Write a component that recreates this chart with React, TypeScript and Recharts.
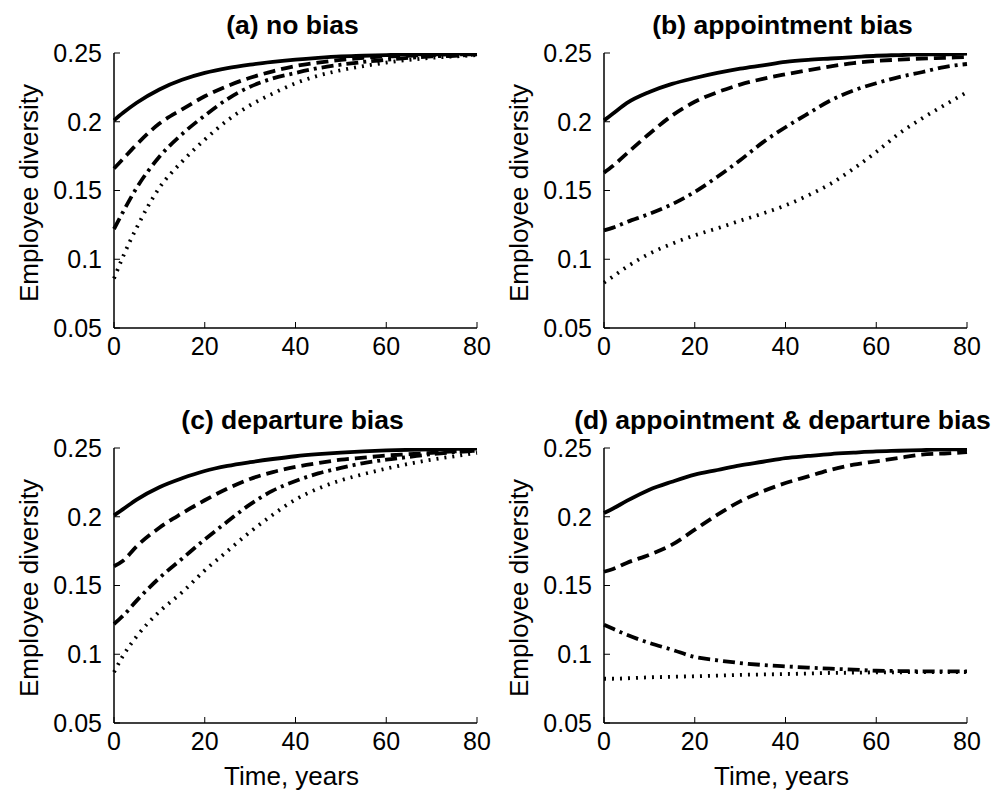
import React from "react";
import { LineChart, Line, XAxis, YAxis } from "recharts";

const times = [0, 2, 5, 10, 15, 20, 25, 30, 35, 40, 45, 50, 55, 60, 65, 70, 75, 80];
const xTicks = [0, 20, 40, 60, 80];
const yTicks = [0.05, 0.1, 0.15, 0.2, 0.25];

// (a) no bias
const noBiasSolid = [0.201, 0.2065, 0.2138, 0.2235, 0.2305, 0.2355, 0.239, 0.2415, 0.2435, 0.2452, 0.2465, 0.2475, 0.248, 0.2485, 0.249, 0.249, 0.2495, 0.2495];
const noBiasDashed = [0.166, 0.173, 0.1835, 0.1987, 0.209, 0.2185, 0.226, 0.232, 0.2367, 0.2405, 0.243, 0.245, 0.2465, 0.2475, 0.248, 0.2485, 0.249, 0.249];
const noBiasDashDot = [0.122, 0.1345, 0.152, 0.1745, 0.191, 0.2045, 0.2165, 0.2255, 0.2315, 0.2355, 0.239, 0.2415, 0.2435, 0.245, 0.2465, 0.2475, 0.248, 0.249];
const noBiasDotted = [0.086, 0.102, 0.123, 0.152, 0.171, 0.187, 0.201, 0.212, 0.2205, 0.228, 0.2335, 0.2375, 0.2405, 0.243, 0.245, 0.2465, 0.2475, 0.2485];

// (b) appointment bias
const apptSolid = [0.201, 0.206, 0.2135, 0.2216, 0.2275, 0.2318, 0.2355, 0.2386, 0.241, 0.2435, 0.245, 0.246, 0.247, 0.248, 0.2485, 0.249, 0.249, 0.2495];
const apptDashed = [0.163, 0.168, 0.1768, 0.1913, 0.2045, 0.2145, 0.2215, 0.227, 0.2312, 0.2345, 0.2375, 0.2403, 0.2427, 0.2442, 0.2452, 0.246, 0.2465, 0.247];
const apptDashDot = [0.121, 0.123, 0.127, 0.133, 0.14, 0.149, 0.16, 0.172, 0.185, 0.196, 0.206, 0.2156, 0.2228, 0.228, 0.2325, 0.236, 0.2398, 0.242];
const apptDotted = [0.083, 0.0875, 0.0944, 0.104, 0.1113, 0.1174, 0.1225, 0.128, 0.1333, 0.1392, 0.1465, 0.155, 0.1659, 0.178, 0.1913, 0.2022, 0.212, 0.2216];

// (c) departure bias
const depSolid = [0.201, 0.2055, 0.2125, 0.2215, 0.228, 0.2333, 0.237, 0.2397, 0.242, 0.244, 0.2455, 0.2467, 0.2476, 0.2482, 0.2487, 0.249, 0.2493, 0.2495];
const depDashed = [0.164, 0.168, 0.1785, 0.192, 0.2025, 0.212, 0.2205, 0.2275, 0.2325, 0.2362, 0.239, 0.2415, 0.243, 0.2445, 0.2455, 0.2465, 0.2475, 0.248];
const depDashDot = [0.122, 0.128, 0.139, 0.1555, 0.1695, 0.1835, 0.1965, 0.209, 0.219, 0.226, 0.2315, 0.2355, 0.239, 0.2415, 0.2435, 0.2455, 0.247, 0.248];
const depDotted = [0.087, 0.099, 0.113, 0.131, 0.145, 0.161, 0.175, 0.189, 0.2015, 0.2125, 0.2205, 0.2265, 0.231, 0.235, 0.2385, 0.2415, 0.244, 0.2465];

// (d) appointment & departure bias
const bothSolid = [0.2027, 0.206, 0.2115, 0.2197, 0.2255, 0.2306, 0.234, 0.2374, 0.24, 0.2427, 0.2442, 0.2456, 0.2466, 0.2475, 0.248, 0.2485, 0.249, 0.249];
const bothDashed = [0.16, 0.162, 0.1664, 0.1724, 0.1797, 0.1906, 0.2015, 0.2112, 0.2185, 0.2245, 0.2294, 0.2342, 0.2379, 0.2403, 0.2427, 0.2452, 0.246, 0.247];
const bothDashDot = [0.1215, 0.1185, 0.1142, 0.1082, 0.1033, 0.098, 0.0956, 0.0936, 0.0922, 0.0912, 0.0903, 0.0895, 0.0888, 0.088, 0.0878, 0.0876, 0.0876, 0.0876];
const bothDotted = [0.0822, 0.0822, 0.0825, 0.0832, 0.0836, 0.084, 0.0845, 0.085, 0.0853, 0.0856, 0.086, 0.0864, 0.0866, 0.0868, 0.0869, 0.087, 0.087, 0.0871];

const FONT = "'Liberation Sans', Arial, Helvetica, sans-serif";
const PAD_L = 110;
const PAD_T = 25;
const PAD_R = 20;
const PAD_B = 40;
const PLOT_W = 363;
const PLOT_H = 275;

const makeRows = (s, d, dd, p) =>
  times.map((t, i) => ({ t, s: s[i], d: d[i], dd: dd[i], p: p[i] }));

const panels = [
  { title: "(a) no bias", left: 114, top: 53, rows: makeRows(noBiasSolid, noBiasDashed, noBiasDashDot, noBiasDotted), xlabel: false },
  { title: "(b) appointment bias", left: 604, top: 53, rows: makeRows(apptSolid, apptDashed, apptDashDot, apptDotted), xlabel: false },
  { title: "(c) departure bias", left: 114, top: 448, rows: makeRows(depSolid, depDashed, depDashDot, depDotted), xlabel: true },
  { title: "(d) appointment & departure bias", left: 604, top: 448, rows: makeRows(bothSolid, bothDashed, bothDashDot, bothDotted), xlabel: true },
];

const fmtY = (v) => String(Number(v.toFixed(2)));

const tickStyle = { fill: "#000", fontSize: 25, fontFamily: FONT };
const axisLine = { stroke: "#000", strokeWidth: 1.5 };

const Panel = ({ p }) => {
  const cx = p.left + PLOT_W / 2;
  return (
    <>
      <div
        style={{
          position: "absolute",
          left: cx - 3,
          top: p.top - 41,
          transform: "translateX(-50%)",
          fontFamily: FONT,
          fontWeight: "bold",
          fontSize: 26.5,
          lineHeight: "26px",
          whiteSpace: "nowrap",
        }}
      >
        {p.title}
      </div>
      <div
        style={{
          position: "absolute",
          left: p.left - 85,
          top: p.top + 140,
          transform: "translate(-50%, -50%) rotate(-90deg)",
          fontFamily: FONT,
          fontSize: 26,
          lineHeight: "26px",
          whiteSpace: "nowrap",
        }}
      >
        Employee diversity
      </div>
      {p.xlabel && (
        <div
          style={{
            position: "absolute",
            left: cx - 4,
            top: p.top + PLOT_H + 40,
            transform: "translateX(-50%)",
            fontFamily: FONT,
            fontSize: 26,
            lineHeight: "26px",
            whiteSpace: "nowrap",
          }}
        >
          Time, years
        </div>
      )}
      <div style={{ position: "absolute", left: p.left - PAD_L, top: p.top - PAD_T }}>
        <LineChart
          width={PLOT_W + PAD_L + PAD_R}
          height={PLOT_H + PAD_T + PAD_B}
          data={p.rows}
          margin={{ top: PAD_T, right: PAD_R, bottom: 0, left: 0 }}
        >
          <XAxis
            xAxisId="b"
            dataKey="t"
            type="number"
            domain={[0, 80]}
            ticks={xTicks}
            interval={0}
            height={PAD_B}
            tickSize={-6}
            tickMargin={15}
            tick={tickStyle}
            axisLine={axisLine}
            tickLine={{ stroke: "#000" }}
          />
          <XAxis
            xAxisId="t"
            dataKey="t"
            type="number"
            orientation="top"
            mirror
            domain={[0, 80]}
            ticks={xTicks}
            interval={0}
            height={0}
            tickSize={6}
            tick={false}
            axisLine={axisLine}
            tickLine={{ stroke: "#000" }}
          />
          <YAxis
            yAxisId="l"
            type="number"
            domain={[0.05, 0.25]}
            ticks={yTicks}
            interval={0}
            width={PAD_L}
            tickSize={-6}
            tickMargin={18}
            tickFormatter={fmtY}
            tick={tickStyle}
            axisLine={axisLine}
            tickLine={{ stroke: "#000" }}
            allowDataOverflow
          />
          <YAxis
            yAxisId="r"
            type="number"
            orientation="right"
            mirror
            domain={[0.05, 0.25]}
            ticks={yTicks}
            interval={0}
            width={0}
            tickSize={6}
            tick={false}
            axisLine={axisLine}
            tickLine={{ stroke: "#000" }}
          />
          <Line xAxisId="b" yAxisId="l" dataKey="s" type="monotone" stroke="#000" strokeWidth={3.8} dot={false} isAnimationActive={false} />
          <Line xAxisId="b" yAxisId="l" dataKey="d" type="monotone" stroke="#000" strokeWidth={3.8} strokeDasharray="12 6" dot={false} isAnimationActive={false} />
          <Line xAxisId="b" yAxisId="l" dataKey="dd" type="monotone" stroke="#000" strokeWidth={3.8} strokeDasharray="12 5 3 5" dot={false} isAnimationActive={false} />
          <Line xAxisId="b" yAxisId="l" dataKey="p" type="monotone" stroke="#000" strokeWidth={3.8} strokeDasharray="2 6" dot={false} isAnimationActive={false} />
        </LineChart>
      </div>
    </>
  );
};

export default function App() {
  return (
    <div style={{ position: "absolute", left: 0, top: 0, width: 1008, height: 795, background: "#fff" }}>
      {panels.map((p) => (
        <Panel key={p.title} p={p} />
      ))}
    </div>
  );
}
